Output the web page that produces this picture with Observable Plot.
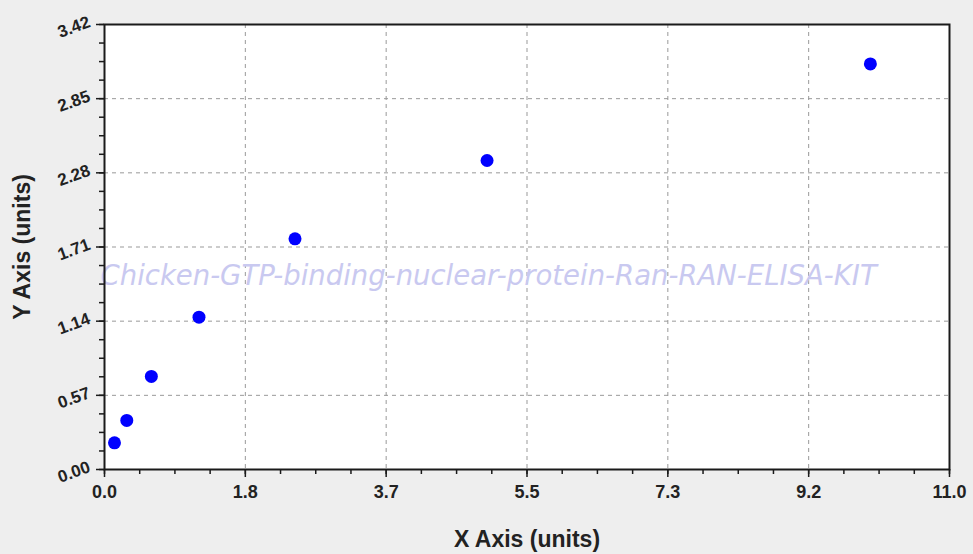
<!DOCTYPE html>
<html>
<head>
<meta charset="utf-8">
<script src="https://cdn.jsdelivr.net/npm/d3@7"></script>
<script src="https://cdn.jsdelivr.net/npm/@observablehq/plot@0.6"></script>
<style>
  html, body { margin: 0; padding: 0; background: #eeeeee; }
  #chart svg { display: block; }
</style>
</head>
<body>
<div id="chart"></div>
<script>
// Data
const xValues = [0.13, 0.29, 0.61, 1.23, 2.48, 4.98, 9.97];
const yValues = [0.205, 0.377, 0.715, 1.171, 1.773, 2.375, 3.117];
const xTicks = [0, 11/6, 22/6, 33/6, 44/6, 55/6, 11];
const yTicks = [0, 0.57, 1.14, 1.71, 2.28, 2.85, 3.42];
const xMinor = d3.range(0, 25).map(i => i * 11 / 24);
const yMinor = d3.range(0, 25).map(i => i * 0.1425);
const watermark = "Chicken-GTP-binding-nuclear-protein-Ran-RAN-ELISA-KIT";
const xTitle = "X Axis (units)";
const yTitle = "Y Axis (units)";

const points = xValues.map((x, i) => ({x, y: yValues[i]}));
const innerX = xTicks.slice(1, -1);
const innerY = yTicks.slice(1, -1);

const chart = Plot.plot({
  width: 973,
  height: 554,
  marginLeft: 104,
  marginRight: 24,
  marginTop: 24,
  marginBottom: 85,
  style: {background: "#eeeeee", fontFamily: "'Liberation Sans', Arial, sans-serif", color: "#222"},
  x: {domain: [0, 11], label: null},
  y: {domain: [0, 3.42], label: null},
  marks: [
    Plot.frame({fill: "white", stroke: null}),
    Plot.gridX(innerX, {stroke: "#999999", strokeOpacity: 1, strokeDasharray: "4,4", strokeWidth: 1}),
    Plot.gridY(innerY, {stroke: "#999999", strokeOpacity: 1, strokeDasharray: "4,4", strokeWidth: 1}),
    Plot.text([watermark], {frameAnchor: "left", textAnchor: "start", dx: -4, dy: 29,
      fontSize: 27.5, fontStyle: "italic", fontFamily: "'DejaVu Sans', sans-serif", fill: "#c9c9f0"}),
    Plot.dot(points, {x: "x", y: "y", r: 6.5, fill: "#0000ff", stroke: null}),
    Plot.frame({stroke: "#1a1a1a", strokeWidth: 2}),
    Plot.axisX(xMinor, {tickSize: 5, tickFormat: () => "", stroke: "#1a1a1a", strokeWidth: 1.5, label: null}),
    Plot.axisX(xTicks, {tickSize: 8, tickPadding: 8, tickFormat: d3.format(".1f"), fontSize: 18, fontWeight: "bold", stroke: "#1a1a1a", strokeWidth: 1.5, label: null}),
    Plot.axisY(yMinor, {tickSize: 5, tickFormat: () => "", stroke: "#1a1a1a", strokeWidth: 1.5, label: null}),
    Plot.axisY(yTicks, {tickSize: 8, tickFormat: () => "", stroke: "#1a1a1a", strokeWidth: 1.5, label: null}),
    Plot.text(yTicks, {x: 0, y: d => d, text: d3.format(".2f"), textAnchor: "end", rotate: -20, dx: -15, dy: -3,
      fontSize: 17, fontWeight: "bold", fill: "#222"}),
    Plot.text([xTitle], {frameAnchor: "bottom", textAnchor: "middle", dy: 77, fontSize: 23, fontWeight: "bold", fill: "#222"}),
    Plot.text([yTitle], {frameAnchor: "left", textAnchor: "middle", dx: -82, rotate: -90, fontSize: 23, fontWeight: "bold", fill: "#222"})
  ]
});
document.getElementById("chart").append(chart);
</script>
</body>
</html>
